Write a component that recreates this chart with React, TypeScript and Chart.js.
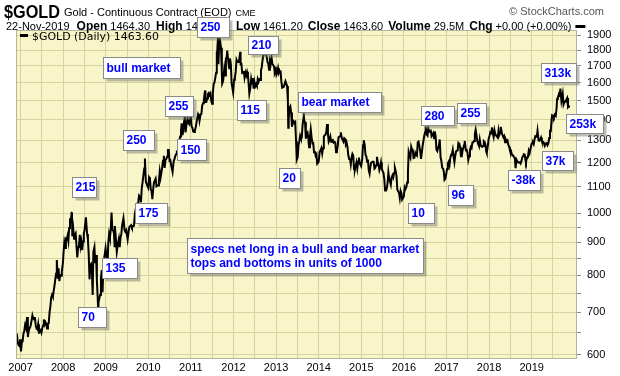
import React, { useEffect, useRef } from "react";
import { Chart, registerables } from "chart.js";

Chart.register(...registerables);

const G2006: [string, number][] = [["11-27",640],["12-01",648],["12-08",628],["12-15",622],["12-22",620],["12-29",635]];
const G2007: [string, number][] = [["01-05",608],["01-12",628],["01-19",630],["01-26",648],["02-02",654],["02-09",668],["02-16",662],["02-26",688],["03-05",640],["03-12",654],["03-19",660],["03-28",666],["04-05",678],["04-13",692],["04-20",685],["04-27",682],["05-04",688],["05-11",668],["05-18",660],["05-25",658],["06-01",670],["06-08",648],["06-15",658],["06-22",655],["06-29",650],["07-06",660],["07-13",667],["07-20",682],["07-27",670],["08-03",675],["08-10",670],["08-16",660],["08-24",672],["08-31",673],["09-07",700],["09-14",715],["09-21",738],["09-28",745],["10-05",740],["10-12",755],["10-19",770],["10-26",788],["11-02",805],["11-08",845],["11-16",790],["11-23",820],["11-30",783],["12-07",800],["12-14",798],["12-21",810],["12-31",838]];
const G2008: [string, number][] = [["01-04",865],["01-11",898],["01-18",882],["01-25",912],["02-01",910],["02-08",922],["02-15",905],["02-22",948],["02-29",975],["03-07",972],["03-14",1002],["03-17",1003],["03-20",920],["03-28",945],["04-04",912],["04-11",925],["04-18",930],["04-25",888],["05-02",853],["05-09",885],["05-16",888],["05-23",925],["05-30",888],["06-06",903],["06-13",875],["06-20",903],["06-27",930],["07-03",940],["07-15",985],["07-25",928],["08-01",912],["08-08",862],["08-15",788],["08-22",830],["08-29",833],["09-05",805],["09-11",745],["09-17",870],["09-26",885],["10-03",835],["10-10",860],["10-17",785],["10-24",738],["10-27",715],["10-31",725],["11-07",735],["11-14",745],["11-21",790],["11-28",815],["12-05",752],["12-12",825],["12-19",850],["12-31",882]];
const G2009: [string, number][] = [["01-09",855],["01-15",808],["01-23",898],["01-30",928],["02-06",915],["02-13",942],["02-20",1002],["02-27",942],["03-06",940],["03-13",930],["03-18",888],["03-20",955],["03-27",925],["04-06",870],["04-14",892],["04-24",912],["05-01",885],["05-08",915],["05-15",928],["05-22",958],["06-02",982],["06-12",940],["06-19",935],["06-26",940],["07-08",910],["07-17",938],["07-24",953],["07-31",955],["08-07",958],["08-14",950],["08-21",953],["08-31",955],["09-08",998],["09-17",1018],["09-25",990],["10-02",1003],["10-09",1050],["10-14",1065],["10-23",1058],["10-30",1040],["11-06",1095],["11-13",1118],["11-20",1145],["11-27",1175],["12-03",1218],["12-11",1120],["12-18",1110],["12-31",1096]];
const G2010: [string, number][] = [["01-08",1138],["01-15",1132],["01-22",1090],["01-29",1082],["02-05",1052],["02-12",1092],["02-19",1118],["02-26",1118],["03-05",1133],["03-12",1102],["03-19",1105],["03-26",1105],["04-02",1125],["04-09",1162],["04-16",1136],["04-23",1156],["04-30",1180],["05-07",1208],["05-14",1230],["05-21",1177],["05-28",1212],["06-04",1216],["06-11",1226],["06-18",1256],["06-25",1256],["07-02",1208],["07-09",1210],["07-16",1188],["07-28",1160],["08-06",1205],["08-13",1215],["08-20",1228],["08-27",1237],["09-03",1247],["09-10",1245],["09-17",1276],["09-24",1297],["10-01",1318],["10-08",1346],["10-14",1382],["10-22",1325],["10-29",1358],["11-05",1397],["11-09",1422],["11-16",1338],["11-24",1375],["12-03",1406],["12-10",1384],["12-17",1378],["12-31",1421]];
const G2011: [string, number][] = [["01-07",1368],["01-14",1360],["01-21",1342],["01-28",1340],["02-04",1348],["02-11",1361],["02-18",1387],["02-25",1409],["03-04",1429],["03-11",1420],["03-16",1396],["03-25",1428],["04-01",1430],["04-08",1474],["04-15",1486],["04-22",1504],["05-02",1556],["05-06",1492],["05-13",1492],["05-20",1512],["05-27",1536],["06-03",1542],["06-10",1531],["06-17",1539],["06-24",1500],["07-01",1483],["07-08",1541],["07-15",1592],["07-22",1601],["07-29",1628],["08-05",1659],["08-10",1790],["08-12",1745],["08-19",1852],["08-22",1891],["08-25",1710],["09-02",1876],["09-06",1874],["09-09",1856],["09-16",1814],["09-23",1658],["09-26",1595],["10-04",1610],["10-14",1682],["10-21",1642],["10-28",1746],["11-04",1756],["11-08",1796],["11-18",1724],["11-25",1686],["12-02",1746],["12-09",1713],["12-16",1598],["12-29",1545]];
const G2012: [string, number][] = [["01-06",1617],["01-13",1630],["01-20",1665],["01-27",1738],["02-03",1725],["02-10",1724],["02-17",1726],["02-28",1788],["03-02",1711],["03-09",1712],["03-16",1658],["03-23",1662],["03-30",1669],["04-05",1630],["04-13",1659],["04-20",1642],["04-27",1664],["05-04",1644],["05-11",1585],["05-16",1538],["05-25",1572],["06-01",1622],["06-08",1595],["06-15",1627],["06-22",1566],["06-29",1604],["07-06",1579],["07-13",1590],["07-20",1581],["07-27",1620],["08-03",1605],["08-10",1620],["08-17",1616],["08-24",1672],["08-31",1692],["09-07",1738],["09-14",1770],["09-21",1773],["09-28",1773],["10-05",1781],["10-12",1758],["10-19",1724],["10-26",1712],["11-02",1676],["11-09",1731],["11-16",1714],["11-23",1752],["11-30",1713],["12-07",1705],["12-14",1696],["12-21",1657],["12-31",1675]];
const G2013: [string, number][] = [["01-04",1649],["01-11",1662],["01-18",1687],["01-25",1657],["02-01",1667],["02-08",1667],["02-15",1609],["02-22",1572],["03-01",1572],["03-08",1577],["03-15",1592],["03-22",1608],["04-05",1581],["04-12",1501],["04-15",1361],["04-19",1405],["04-26",1462],["05-03",1470],["05-10",1437],["05-17",1365],["05-24",1386],["05-31",1393],["06-07",1383],["06-14",1388],["06-21",1297],["06-27",1212],["07-05",1223],["07-12",1277],["07-19",1295],["07-26",1322],["08-02",1310],["08-09",1312],["08-16",1375],["08-27",1420],["08-30",1396],["09-06",1387],["09-13",1308],["09-20",1333],["09-27",1338],["10-04",1310],["10-11",1268],["10-18",1315],["10-25",1352],["11-01",1315],["11-08",1287],["11-15",1288],["11-22",1245],["11-29",1250],["12-06",1230],["12-13",1236],["12-19",1195],["12-31",1202]];
const G2014: [string, number][] = [["01-10",1248],["01-17",1254],["01-24",1264],["01-31",1240],["02-07",1263],["02-14",1318],["02-21",1324],["02-28",1326],["03-07",1339],["03-14",1379],["03-21",1334],["03-28",1294],["04-04",1303],["04-11",1318],["04-18",1294],["04-25",1300],["05-02",1302],["05-09",1290],["05-16",1293],["05-23",1291],["05-30",1246],["06-06",1252],["06-13",1273],["06-20",1315],["06-27",1316],["07-03",1320],["07-10",1338],["07-18",1310],["07-25",1303],["08-01",1294],["08-08",1310],["08-15",1306],["08-22",1280],["08-29",1287],["09-05",1267],["09-12",1231],["09-19",1216],["09-26",1218],["10-03",1192],["10-10",1222],["10-17",1238],["10-24",1231],["10-31",1171],["11-07",1169],["11-14",1186],["11-21",1201],["11-28",1175],["12-05",1204],["12-12",1222],["12-19",1196],["12-31",1184]];
const G2015: [string, number][] = [["01-09",1216],["01-16",1277],["01-22",1301],["01-30",1279],["02-06",1234],["02-13",1227],["02-20",1204],["02-27",1213],["03-06",1167],["03-13",1153],["03-20",1183],["03-27",1200],["04-02",1200],["04-10",1204],["04-17",1203],["04-24",1174],["05-01",1178],["05-08",1189],["05-15",1225],["05-22",1205],["05-29",1190],["06-05",1168],["06-12",1180],["06-19",1201],["06-26",1174],["07-03",1163],["07-10",1157],["07-17",1131],["07-24",1085],["07-31",1095],["08-07",1093],["08-14",1113],["08-21",1159],["08-28",1133],["09-04",1121],["09-11",1108],["09-18",1137],["09-25",1146],["10-02",1137],["10-09",1156],["10-16",1177],["10-23",1163],["10-30",1142],["11-06",1088],["11-13",1081],["11-20",1077],["11-27",1056],["12-04",1084],["12-11",1075],["12-17",1050],["12-31",1061]];
const G2016: [string, number][] = [["01-08",1098],["01-15",1091],["01-22",1098],["01-29",1117],["02-05",1157],["02-11",1247],["02-19",1231],["02-26",1221],["03-04",1271],["03-11",1259],["03-18",1253],["03-24",1220],["04-01",1222],["04-08",1243],["04-15",1234],["04-22",1230],["04-29",1291],["05-06",1294],["05-13",1273],["05-20",1252],["05-27",1216],["06-03",1243],["06-10",1275],["06-17",1298],["06-24",1322],["07-01",1339],["07-06",1366],["07-15",1327],["07-22",1322],["07-29",1357],["08-05",1344],["08-12",1343],["08-19",1346],["08-26",1320],["09-02",1326],["09-09",1334],["09-16",1310],["09-23",1342],["09-30",1317],["10-07",1257],["10-14",1251],["10-21",1267],["10-28",1276],["11-04",1304],["11-11",1224],["11-18",1207],["11-25",1178],["12-02",1177],["12-09",1161],["12-15",1128],["12-23",1133],["12-30",1152]];
const G2017: [string, number][] = [["01-06",1173],["01-13",1197],["01-20",1204],["01-27",1190],["02-03",1220],["02-10",1234],["02-17",1238],["02-24",1257],["03-03",1226],["03-10",1201],["03-17",1229],["03-24",1249],["03-31",1249],["04-07",1254],["04-13",1288],["04-21",1284],["04-28",1268],["05-05",1228],["05-12",1228],["05-19",1254],["05-26",1267],["06-02",1280],["06-06",1297],["06-16",1255],["06-23",1256],["06-30",1242],["07-07",1212],["07-14",1228],["07-21",1255],["07-28",1269],["08-04",1264],["08-11",1290],["08-18",1291],["08-25",1297],["09-01",1330],["09-08",1351],["09-15",1325],["09-22",1297],["09-29",1284],["10-06",1275],["10-13",1304],["10-20",1280],["10-27",1272],["11-03",1270],["11-10",1274],["11-17",1296],["11-24",1292],["12-01",1280],["12-08",1248],["12-12",1242],["12-22",1278],["12-29",1309]];
const G2018: [string, number][] = [["01-05",1322],["01-12",1338],["01-19",1333],["01-25",1362],["02-02",1333],["02-09",1316],["02-16",1348],["02-23",1330],["03-02",1323],["03-09",1323],["03-16",1313],["03-23",1347],["03-29",1325],["04-06",1336],["04-11",1365],["04-20",1336],["04-27",1323],["05-04",1314],["05-11",1320],["05-18",1291],["05-25",1303],["06-01",1294],["06-08",1299],["06-15",1279],["06-22",1270],["06-29",1254],["07-06",1255],["07-13",1241],["07-20",1231],["07-27",1231],["08-03",1223],["08-10",1219],["08-16",1176],["08-24",1213],["08-31",1206],["09-07",1200],["09-14",1201],["09-21",1201],["09-28",1196],["10-05",1206],["10-12",1222],["10-19",1229],["10-26",1236],["11-02",1235],["11-09",1210],["11-13",1202],["11-23",1223],["11-30",1226],["12-07",1252],["12-14",1241],["12-21",1258],["12-31",1284]];
const G2019: [string, number][] = [["01-04",1286],["01-11",1290],["01-18",1282],["01-25",1303],["02-01",1319],["02-08",1317],["02-15",1323],["02-20",1346],["03-01",1299],["03-08",1298],["03-15",1303],["03-22",1313],["03-29",1298],["04-05",1295],["04-12",1292],["04-23",1275],["04-30",1285],["05-10",1287],["05-17",1277],["05-24",1285],["05-31",1311],["06-07",1346],["06-14",1345],["06-20",1397],["06-25",1423],["07-03",1420],["07-10",1412],["07-17",1426],["07-26",1419],["08-02",1457],["08-07",1509],["08-13",1516],["08-23",1537],["08-30",1529],["09-04",1566],["09-13",1499],["09-24",1538],["10-01",1479],["10-10",1494],["10-18",1494],["10-25",1505],["11-01",1514],["11-08",1466],["11-14",1471],["11-22",1463.6]];

const SERIES_BY_YEAR: [number, [string, number][]][] = [
  [2006, G2006], [2007, G2007], [2008, G2008], [2009, G2009], [2010, G2010], [2011, G2011],
  [2012, G2012], [2013, G2013], [2014, G2014], [2015, G2015], [2016, G2016], [2017, G2017],
  [2018, G2018], [2019, G2019],
];

const YEAR_LABELS = [2007, 2008, 2009, 2010, 2011, 2012, 2013, 2014, 2015, 2016, 2017, 2018, 2019];
const PRICE_LABELS = [600, 700, 800, 900, 1000, 1100, 1200, 1300, 1400, 1500, 1600, 1700, 1800, 1900];
const PRICE_MINOR = [650, 750, 850, 950];

const X_MIN = 2006.894;
const X_MAX = 2020.064;
const Y_MIN = 591.4;
const Y_MAX = 1934.6;

// annotation boxes: text lines + corners in (year, price)
type Note = { lines: string[]; x0: number; y0: number; x1: number; y1: number };
const NOTES: Note[] = [
  { lines: ["bull market"], x0: 2008.937, y0: 1756, x1: 2010.744, y1: 1628 },
  { lines: ["250"], x0: 2011.143, y0: 2029, x1: 2011.894, y1: 1887 },
  { lines: ["210"], x0: 2012.34, y0: 1894, x1: 2013.045, y1: 1775 },
  { lines: ["255"], x0: 2010.392, y0: 1526, x1: 2011.049, y1: 1420 },
  { lines: ["115"], x0: 2012.082, y0: 1504, x1: 2012.763, y1: 1399 },
  { lines: ["250"], x0: 2009.406, y0: 1350, x1: 2010.134, y1: 1256 },
  { lines: ["150"], x0: 2010.674, y0: 1307, x1: 2011.354, y1: 1212 },
  { lines: ["20"], x0: 2013.068, y0: 1177, x1: 2013.561, y1: 1095 },
  { lines: ["215"], x0: 2008.209, y0: 1139, x1: 2008.772, y1: 1060 },
  { lines: ["175"], x0: 2009.688, y0: 1037, x1: 2010.439, y1: 965 },
  { lines: ["135"], x0: 2008.913, y0: 851, x1: 2009.735, y1: 792 },
  { lines: ["70"], x0: 2008.35, y0: 713, x1: 2009.007, y1: 664 },
  { lines: ["specs net long in a bull and bear market", "tops and bottoms in units of 1000"], x0: 2010.908, y0: 914, x1: 2016.448, y1: 806 },
  { lines: ["bear market"], x0: 2013.514, y0: 1548, x1: 2015.463, y1: 1441 },
  { lines: ["280"], x0: 2016.401, y0: 1472, x1: 2017.176, y1: 1374 },
  { lines: ["255"], x0: 2017.246, y0: 1488, x1: 2017.927, y1: 1384 },
  { lines: ["10"], x0: 2016.103, y0: 1037, x1: 2016.714, y1: 965 },
  { lines: ["96"], x0: 2017.042, y0: 1107, x1: 2017.629, y1: 1030 },
  { lines: ["-38k"], x0: 2018.444, y0: 1169, x1: 2019.195, y1: 1088 },
  { lines: ["37k"], x0: 2019.242, y0: 1252, x1: 2019.969, y1: 1169 },
  { lines: ["313k"], x0: 2019.218, y0: 1718, x1: 2020.04, y1: 1605 },
  { lines: ["253k"], x0: 2019.805, y0: 1430, x1: 2020.674, y1: 1336 },
];

const BG = "#f8f6c9";
const GRID = "#d5d39f";
const SANS = "'Liberation Sans', Arial, sans-serif";

function toYear(y: number, md: string): number {
  const [m, d] = md.split("-").map(Number);
  const start = Date.UTC(y, 0, 1);
  const end = Date.UTC(y + 1, 0, 1);
  return y + (Date.UTC(y, m - 1, d) - start) / (end - start);
}

const POINTS = SERIES_BY_YEAR.flatMap(([yr, rows]) => rows.map(([md, p]) => ({ x: toYear(yr, md), y: p })));

function drawText(ctx: CanvasRenderingContext2D, s: string, x: number, y: number, font: string, color: string, fitW?: number): number {
  ctx.font = font;
  ctx.fillStyle = color;
  ctx.textBaseline = "alphabetic";
  ctx.textAlign = "left";
  const w = ctx.measureText(s).width;
  if (fitW && w > 0) {
    ctx.save();
    ctx.translate(x, y);
    ctx.scale(fitW / w, 1);
    ctx.fillText(s, 0, 0);
    ctx.restore();
    return x + fitW;
  }
  ctx.fillText(s, x, y);
  return x + w;
}

const overlayPlugin = {
  id: "overlay",
  beforeDraw(chart: any) {
    const { ctx, chartArea: a } = chart;
    ctx.save();
    ctx.fillStyle = "#ffffff";
    ctx.fillRect(0, 0, chart.width, chart.height);
    ctx.fillStyle = BG;
    ctx.fillRect(a.left, a.top, a.right - a.left, a.bottom - a.top);
    ctx.restore();
  },
  afterDraw(chart: any) {
    const { ctx, chartArea: a } = chart;
    const xs = chart.scales.x;
    const ys = chart.scales.y;
    ctx.save();
    // plot border
    ctx.strokeStyle = "#b4b49a";
    ctx.lineWidth = 1;
    ctx.strokeRect(a.left + 0.5, a.top + 0.5, a.right - a.left - 1, a.bottom - a.top - 1);

    // header line 1
    drawText(ctx, "$GOLD", 4, 18, `bold 18px ${SANS}`, "#000", 56);
    let x = drawText(ctx, "Gold - Continuous Contract (EOD)", 64, 16, `11px ${SANS}`, "#000");
    drawText(ctx, "CME", x + 4, 16, `9px ${SANS}`, "#000");
    ctx.font = `11px ${SANS}`;
    const sc = "\u00a9 StockCharts.com";
    const scw = ctx.measureText(sc).width;
    drawText(ctx, sc, 604 - scw, 15, `11px ${SANS}`, "#555");

    // header line 2
    const B = `bold 12px ${SANS}`;
    const R = `11px ${SANS}`;
    x = drawText(ctx, "22-Nov-2019", 6, 30, R, "#000");
    x = drawText(ctx, "Open", x + 7, 30, B, "#000");
    x = drawText(ctx, "1464.30", x + 3, 30, R, "#000");
    x = drawText(ctx, "High", x + 6, 30, B, "#000");
    drawText(ctx, "1474.20", x + 3, 30, R, "#000");
    x = drawText(ctx, "Low", 236, 30, B, "#000");
    x = drawText(ctx, "1461.20", x + 3, 30, R, "#000");
    x = drawText(ctx, "Close", x + 5, 30, B, "#000");
    x = drawText(ctx, "1463.60", x + 3, 30, R, "#000");
    x = drawText(ctx, "Volume", x + 5, 30, B, "#000");
    x = drawText(ctx, "29.5M", x + 3, 30, R, "#000");
    x = drawText(ctx, "Chg", x + 5, 30, B, "#000");
    x = drawText(ctx, "+0.00 (+0.00%)", x + 3, 30, R, "#000");
    ctx.fillStyle = "#000";
    ctx.fillRect(x + 4, 25, 10, 3);

    // in-plot legend
    ctx.fillStyle = "#000";
    ctx.fillRect(20, 34, 8, 3);
    drawText(ctx, "$GOLD (Daily) 1463.60", 32, 40, `11px 'DejaVu Sans', Verdana, sans-serif`, "#000", 127);

    // annotation boxes
    for (const n of NOTES) {
      const l = Math.round(xs.getPixelForValue(n.x0)) + 0.5;
      const r = Math.round(xs.getPixelForValue(n.x1)) + 0.5;
      const t = Math.round(ys.getPixelForValue(n.y0)) + 0.5;
      const b = Math.round(ys.getPixelForValue(n.y1)) + 0.5;
      ctx.fillStyle = "rgba(110,110,100,0.45)";
      ctx.fillRect(l + 3, t + 3, r - l, b - t);
      ctx.fillStyle = "#ffffff";
      ctx.fillRect(l, t, r - l, b - t);
      ctx.strokeStyle = "#8a8a8a";
      ctx.lineWidth = 1;
      ctx.strokeRect(l, t, r - l, b - t);
      ctx.font = `bold 12px ${SANS}`;
      ctx.fillStyle = "#0000ff";
      ctx.textBaseline = "middle";
      ctx.textAlign = "left";
      const cy = (t + b) / 2;
      const lh = 13.5;
      n.lines.forEach((s, i) => {
        ctx.fillText(s, l + 3, cy + (i - (n.lines.length - 1) / 2) * lh + 0.5);
      });
    }
    ctx.restore();
  },
};

export default function App() {
  const ref = useRef<HTMLCanvasElement | null>(null);
  useEffect(() => {
    if (!ref.current) return;
    const xGrid = YEAR_LABELS.flatMap((y) => [y, y + 0.5]);
    const yGrid = [...PRICE_LABELS, ...PRICE_MINOR].sort((a, b) => a - b);
    const font = { family: "'Liberation Sans', Arial, sans-serif", size: 11 };
    const chart = new Chart(ref.current, {
      type: "line",
      data: {
        datasets: [
          {
            data: POINTS,
            borderColor: "#000000",
            borderWidth: 2,
            pointRadius: 0,
            tension: 0,
            fill: false,
          },
        ],
      },
      options: {
        animation: false,
        responsive: false,
        maintainAspectRatio: false,
        layout: { padding: { left: 16, top: 30, right: 0, bottom: 0 } },
        plugins: { legend: { display: false }, tooltip: { enabled: false } },
        scales: {
          x: {
            type: "linear",
            position: "bottom",
            min: X_MIN,
            max: X_MAX,
            afterBuildTicks: (s: any) => {
              s.ticks = xGrid.map((v) => ({ value: v }));
            },
            afterFit: (s: any) => {
              s.height = 17;
              s.paddingLeft = 0;
              s.paddingRight = 0;
            },
            grid: { color: GRID, lineWidth: 1, drawTicks: false },
            border: { display: false },
            ticks: {
              autoSkip: false,
              maxRotation: 0,
              minRotation: 0,
              padding: 2,
              color: "#000",
              font,
              callback: (v: any) => (Number.isInteger(v) ? String(v) : ""),
            },
          },
          y: {
            type: "logarithmic",
            position: "right",
            min: Y_MIN,
            max: Y_MAX,
            afterBuildTicks: (s: any) => {
              s.ticks = yGrid.map((v) => ({ value: v }));
            },
            afterFit: (s: any) => {
              s.width = 43;
              s.paddingTop = 0;
              s.paddingBottom = 0;
            },
            grid: { color: GRID, lineWidth: 1, tickLength: 4, tickColor: "#888" },
            border: { display: false },
            ticks: {
              autoSkip: false,
              padding: 6,
              color: "#000",
              font,
              callback: (v: any) => (PRICE_LABELS.includes(Number(v)) ? String(v) : ""),
            },
          },
        },
      } as any,
      plugins: [overlayPlugin],
    });
    return () => chart.destroy();
  }, []);
  return (
    <div style={{ position: "fixed", left: 0, top: 0, width: 620, height: 376, background: "#fff" }}>
      <canvas ref={ref} width={620} height={376} style={{ display: "block", width: 620, height: 376 }} />
    </div>
  );
}
